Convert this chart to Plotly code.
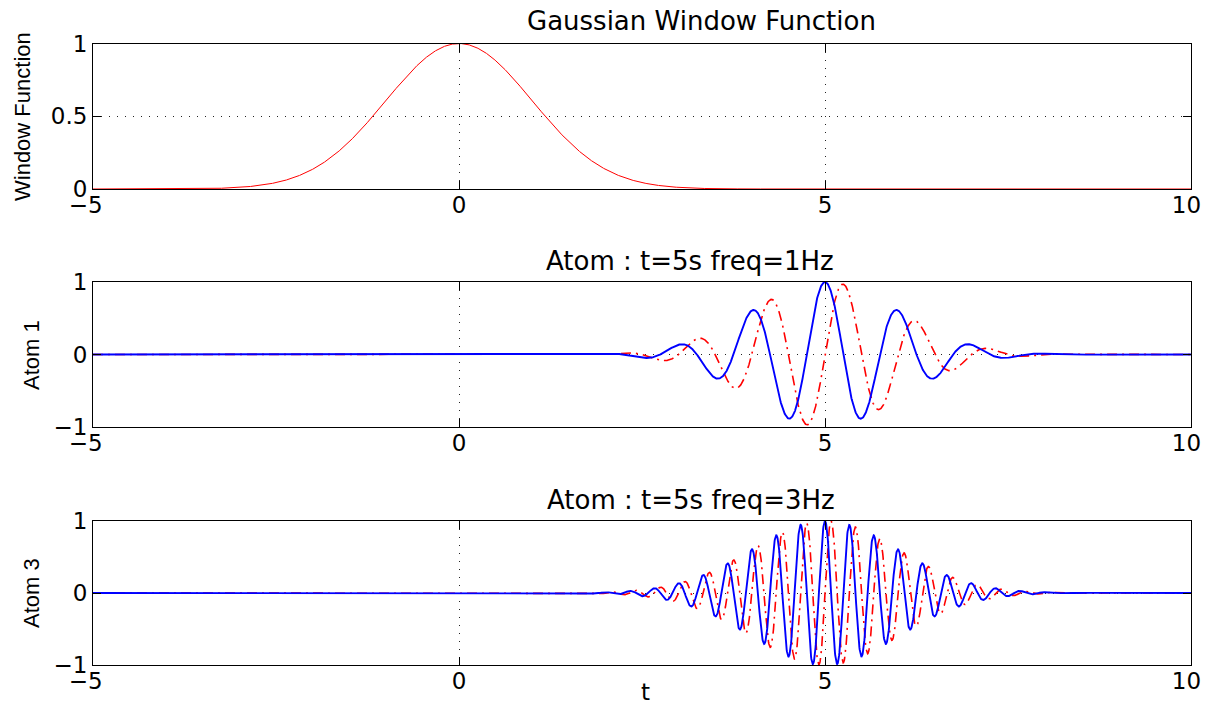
import numpy as np
import plotly.graph_objects as go
from plotly.subplots import make_subplots

# Parameters (titles and curve shapes)
t_range = [-5, 10]
window_center = 0.0
window_sigma = 1.0
atom_centers = [5.0, 5.0]
atom_freqs = [1.0, 3.0]
panel_titles = ["Gaussian Window Function", "Atom : t=5s freq=1Hz", "Atom : t=5s freq=3Hz"]
y_labels = ["Window Function", "Atom 1", "Atom 3"]
x_ticks = [-5, 0, 5, 10]
x_tick_text = ["\u22125\u00a0\u00a0", "0", "5", "10\u2009\u2009"]
y_ticks_top = [0, 0.5, 1]
y_tick_text_top = ["0", "0.5", "1"]
y_ticks_atom = [-1, 0, 1]
y_tick_text_atom = ["\u22121", "0", "1"]

t = np.linspace(t_range[0], t_range[1], 4001)
window = np.exp(-0.5 * ((t - window_center) / window_sigma) ** 2)

fig = make_subplots(rows=3, cols=1)
fig.add_trace(go.Scatter(x=t, y=window, mode="lines",
                         line=dict(color="#ff0000", width=1)), row=1, col=1)
for i, (c, f) in enumerate(zip(atom_centers, atom_freqs)):
    env = np.exp(-0.5 * ((t - c) / window_sigma) ** 2)
    real = env * np.cos(2 * np.pi * f * (t - c))
    imag = env * np.sin(2 * np.pi * f * (t - c))
    fig.add_trace(go.Scatter(x=t, y=imag, mode="lines",
                             line=dict(color="#ff0000", width=1.6, dash="10px,5px,2px,5px")),
                  row=i + 2, col=1)
    fig.add_trace(go.Scatter(x=t, y=real, mode="lines",
                             line=dict(color="#0000ff", width=1.9)),
                  row=i + 2, col=1)

# page body has an 8px margin: figure placed at (8, 8) and sized to fit the window
OFF = 8
W, H = 1211 - 2 * OFF, 715 - 2 * OFF


def px(sx):
    return (sx - OFF) / W


def py(sy):
    return 1 - (sy - OFF) / H


xdom = [px(93), px(1191)]
ydoms = [[py(189), py(43.5)], [py(427), py(282)], [py(665), py(521)]]
font = "DejaVu Sans, Liberation Sans, sans-serif"
lab_font = "Liberation Sans, Arial, sans-serif"
axis_common = dict(showline=True, linecolor="black", linewidth=1, mirror="ticks",
                   ticks="inside", ticklen=8, tickcolor="black", automargin=False,
                   showgrid=True, gridcolor="#222222", griddash="1px,7px", gridwidth=1,
                   zeroline=False, tickfont=dict(family=font, size=23, color="black"))
for i in range(3):
    ax = "" if i == 0 else str(i + 1)
    fig.layout["xaxis" + ax].update(domain=xdom, range=t_range, tickvals=x_ticks,
                                     ticktext=x_tick_text, ticklabelstandoff=-5,
                                     ticklabeloverflow="allow", **axis_common)
    yv = y_ticks_top if i == 0 else y_ticks_atom
    yt = y_tick_text_top if i == 0 else y_tick_text_atom
    fig.layout["yaxis" + ax].update(domain=ydoms[i], range=[yv[0], yv[-1]],
                                     tickvals=yv, ticktext=yt,
                                     ticklabeloverflow="allow", **axis_common)

title_pos = [(701, 21), (690, 262), (691, 501)]
for i in range(3):
    fig.add_annotation(text=panel_titles[i], x=px(title_pos[i][0]),
                       y=py(max(title_pos[i][1] - 14, OFF)), yshift=4,
                       xref="paper", yref="paper", showarrow=False,
                       font=dict(family=font, size=26, color="black"),
                       xanchor="center", yanchor="top")
label_pos = [(23, 117), (31, 355), (31, 593)]
for i in range(3):
    fig.add_annotation(text=y_labels[i], x=px(label_pos[i][0]), y=py(label_pos[i][1]),
                       xref="paper", yref="paper", showarrow=False, textangle=-90,
                       font=dict(family=lab_font, size=22, color="black"),
                       xanchor="center", yanchor="middle")
fig.add_annotation(text="t", x=px(645), y=py(707), xref="paper", yref="paper",
                   showarrow=False, font=dict(family=font, size=23, color="black"),
                   xanchor="center", yanchor="bottom")

fig.update_layout(width=W, height=H, showlegend=False,
                  margin=dict(l=0, r=0, t=0, b=0, pad=0, autoexpand=False),
                  paper_bgcolor="white", plot_bgcolor="white")
fig.write_html("out.html")
